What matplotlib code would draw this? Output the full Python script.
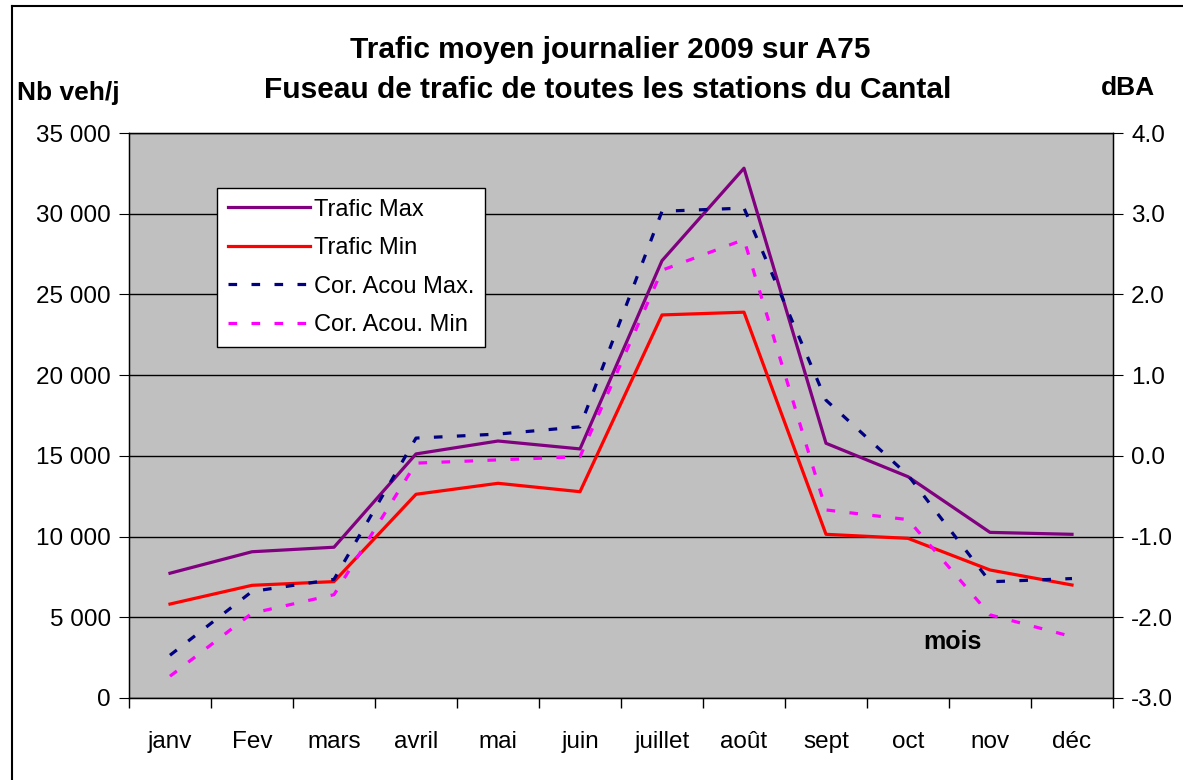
import matplotlib
matplotlib.use("Agg")
import matplotlib.pyplot as plt
from matplotlib.ticker import FuncFormatter, FixedLocator
from matplotlib.lines import Line2D
import numpy as np

plt.rcParams['font.family'] = ['Liberation Sans', 'DejaVu Sans']

months = ["janv", "Fev", "mars", "avril", "mai", "juin", "juillet", "août", "sept", "oct", "nov", "déc"]
trafic_max = [7730, 9060, 9340, 15120, 15920, 15430, 27090, 32820, 15780, 13710, 10260, 10140]
trafic_min = [5820, 6980, 7210, 12620, 13300, 12780, 23730, 23900, 10140, 9890, 7930, 7000]
cor_acou_max = [-2.47, -1.68, -1.53, 0.22, 0.27, 0.36, 3.03, 3.07, 0.69, -0.24, -1.56, -1.52]
cor_acou_min = [-2.73, -1.95, -1.72, -0.09, -0.05, -0.01, 2.30, 2.68, -0.67, -0.79, -1.97, -2.24]

W, H = 1183, 780
fig = plt.figure(figsize=(W/100, H/100), dpi=100)
fig.patch.set_facecolor("white")

L, R, T, B = 129, 1113, 133, 698
ax = fig.add_axes([L/W, 1-B/H, (R-L)/W, (B-T)/H])
ax.set_facecolor("#C0C0C0")
x = np.arange(len(months))
ax.set_xlim(-0.5, len(months)-0.5)
ax.set_ylim(0, 35000)
ax.yaxis.set_major_locator(FixedLocator(np.arange(0, 35001, 5000)))
ax.yaxis.set_major_formatter(FuncFormatter(lambda v, p: f"{int(v):,}".replace(",", " ")))
ax.grid(axis='y', color='black', linewidth=1)
ax.set_axisbelow(True)
ax.set_xticks(x)
ax.set_xticklabels(months)
ax.set_xticks(np.arange(-0.5, len(months)), minor=True)
ax.tick_params(axis='x', which='major', length=0, pad=24, labelsize=17.5)
ax.tick_params(axis='x', which='minor', length=7, direction='out', width=1)
ax.tick_params(axis='y', length=7, direction='out', labelsize=17.5, pad=6)
for s in ax.spines.values():
    s.set_color('black')
    s.set_linewidth(1)

l1, = ax.plot(x, trafic_max, color='#800080', lw=2.3, label='Trafic Max', zorder=3)
l2, = ax.plot(x, trafic_min, color='#FF0000', lw=2.3, label='Trafic Min', zorder=3)

ax2 = ax.twinx()
ax2.set_ylim(-3.0, 4.0)
ax2.yaxis.set_major_locator(FixedLocator(np.arange(-3.0, 4.01, 1.0)))
ax2.yaxis.set_major_formatter(FuncFormatter(lambda v, p: f"{v:.1f}"))
ax2.tick_params(axis='y', length=7, direction='out', labelsize=17.5, pad=6)
dash = (0, (2.7, 4.5))
l3, = ax2.plot(x, cor_acou_max, color='#000080', lw=2.3, ls=dash, label='Cor. Acou Max.', zorder=3)
l4, = ax2.plot(x, cor_acou_min, color='#FF00FF', lw=2.3, ls=dash, label='Cor. Acou. Min', zorder=3)

leg = ax2.legend(handles=[l1, l2, l3, l4], loc='upper left',
                 bbox_to_anchor=((217-L)/(R-L), 1-(188-T)/(B-T)),
                 frameon=True, fancybox=False, edgecolor='black', framealpha=1,
                 fontsize=17, handlelength=3.5, labelspacing=0.7, borderpad=0.45,
                 handletextpad=0.15, borderaxespad=0)
leg.get_frame().set_linewidth(1)

fig.text(610/W, 1-50/H, "Trafic moyen journalier 2009 sur A75", ha='center', va='center',
         fontsize=21.5, fontweight='bold')
fig.text(608/W, 1-90/H, "Fuseau de trafic de toutes les stations du Cantal", ha='center', va='center',
         fontsize=21.5, fontweight='bold')
fig.text(17/W, 1-93/H, "Nb veh/j", ha='left', va='center', fontsize=19, fontweight='bold')
fig.text(1128/W, 1-88/H, "dBA", ha='center', va='center', fontsize=19, fontweight='bold')
fig.text(952/W, 1-642/H, "mois", ha='center', va='center', fontsize=18, fontweight='bold')

fig.lines.append(Line2D([12/W, 12/W], [0, 1-6/H], transform=fig.transFigure, color='black', lw=1.5))
fig.lines.append(Line2D([12/W, 1], [1-6/H, 1-6/H], transform=fig.transFigure, color='black', lw=1.5))

fig.savefig("out.png", dpi=100)
